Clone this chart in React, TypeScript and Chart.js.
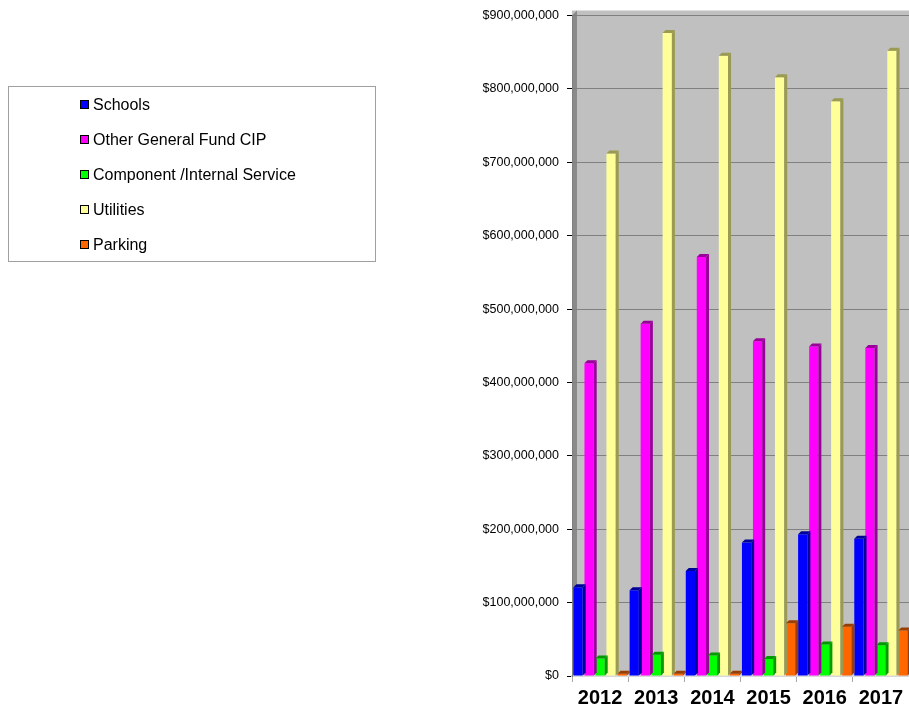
import React, { useEffect, useRef } from "react";
import { Chart, registerables } from "chart.js";
Chart.register(...registerables);

const YEARS = ["2012", "2013", "2014", "2015", "2016", "2017"];
const SERIES_NAMES = ["Schools", "Other General Fund CIP", "Component /Internal Service", "Utilities", "Parking"];
const SCHOOLS = [121e6, 117e6, 143e6, 182e6, 193e6, 187e6];
const OTHER_GF = [426e6, 480e6, 571e6, 456e6, 449e6, 447e6];
const COMPONENT = [24e6, 29e6, 28e6, 23e6, 43e6, 42e6];
const UTILITIES = [712e6, 876e6, 845e6, 816e6, 783e6, 852e6];
const PARKING = [3e6, 3e6, 3e6, 72e6, 67e6, 62e6];
const SERIES_VALUES = [SCHOOLS, OTHER_GF, COMPONENT, UTILITIES, PARKING];
const COLORS = ["#0000FF", "#FF00FF", "#00FF00", "#FFFF99", "#FF6600"];
const SIDE_COLORS = ["#00009a", "#9a009a", "#009a00", "#9a9a50", "#9a3d00"];
const Y_MAX = 900e6;
const Y_STEP = 100e6;

const FONT = "Arial, 'Liberation Sans', sans-serif";

const bgPlugin = {
  id: "bg3d",
  beforeDraw(chart: any) {
    const { ctx, chartArea } = chart;
    if (!chartArea) return;
    const { left, right, top, bottom } = chartArea;
    ctx.save();
    ctx.fillStyle = "#C0C0C0";
    ctx.fillRect(left, top - 5, right - left, bottom - top + 5);
    ctx.fillStyle = "#8a8a8a";
    ctx.beginPath();
    ctx.moveTo(left, top);
    ctx.lineTo(left + 5, top - 5);
    ctx.lineTo(left + 5, bottom - 4);
    ctx.lineTo(left, bottom);
    ctx.closePath();
    ctx.fill();
    ctx.restore();
  },
  afterDatasetsDraw(chart: any) {
    const { ctx } = chart;
    const d = 3;
    ctx.save();
    chart.data.datasets.forEach((ds: any, i: number) => {
      const meta = chart.getDatasetMeta(i);
      meta.data.forEach((el: any) => {
        const { x, y, base, width } = el.getProps(["x", "y", "base", "width"], true);
        const l = x - width / 2;
        const r = x + width / 2;
        ctx.fillStyle = SIDE_COLORS[i];
        ctx.beginPath();
        ctx.moveTo(r, y);
        ctx.lineTo(r + d, y - d);
        ctx.lineTo(r + d, base - d);
        ctx.lineTo(r, base);
        ctx.closePath();
        ctx.fill();
        ctx.beginPath();
        ctx.moveTo(l, y);
        ctx.lineTo(l + d, y - d);
        ctx.lineTo(r + d, y - d);
        ctx.lineTo(r, y);
        ctx.closePath();
        ctx.fill();
      });
    });
    ctx.restore();
  },
};

export default function App() {
  const ref = useRef<HTMLCanvasElement>(null);
  useEffect(() => {
    if (!ref.current) return;
    const chart = new Chart(ref.current, {
      type: "bar",
      data: {
        labels: YEARS,
        datasets: SERIES_NAMES.map((name, i) => ({
          label: name,
          data: SERIES_VALUES[i],
          backgroundColor: COLORS[i],
          borderWidth: 0,
          categoryPercentage: 0.98,
          barPercentage: 0.84,
        })),
      },
      options: {
        responsive: false,
        animation: false,
        layout: { padding: { left: 482, top: 15, right: 0, bottom: 0 } },
        plugins: { legend: { display: false }, tooltip: { enabled: false } },
        scales: {
          x: {
            grid: { drawOnChartArea: false, tickLength: 6, color: "#aaaaaa" },
            border: { color: "#d8d8d8", width: 2 },
            ticks: { color: "#000", padding: 4, font: { family: FONT, size: 20, weight: "bold" } },
            afterFit: (s: any) => { s.height = 33; },
          },
          y: {
            min: 0,
            max: Y_MAX,
            grid: { color: "#808080", tickLength: 5, tickColor: "#000" },
            border: { color: "#808080" },
            ticks: {
              stepSize: Y_STEP,
              padding: 8,
              color: "#000",
              font: { family: FONT, size: 12.5 },
              callback: (v: any) => "$" + Number(v).toLocaleString("en-US"),
            },
            afterFit: (s: any) => { s.width = 90; },
          },
        },
      },
      plugins: [bgPlugin],
    });
    return () => chart.destroy();
  }, []);

  return (
    <div style={{ position: "fixed", left: 0, top: 0, width: 909, height: 709, background: "#fff" }}>
      <canvas ref={ref} width={909} height={709} style={{ position: "absolute", left: 0, top: 0 }} />
      <div
        style={{
          position: "absolute",
          left: 8,
          top: 86,
          width: 366,
          height: 174,
          border: "1px solid #a0a0a0",
          fontFamily: FONT,
          fontSize: 16,
          color: "#000",
        }}
      >
        {SERIES_NAMES.map((name, i) => (
          <div
            key={name}
            style={{ position: "absolute", left: 71, top: 8 + i * 35, height: 19, display: "flex", alignItems: "center", whiteSpace: "nowrap" }}
          >
            <span style={{ display: "inline-block", width: 7, height: 7, border: "1px solid #000", background: COLORS[i], marginRight: 4 }} />
            <span>{name}</span>
          </div>
        ))}
      </div>
    </div>
  );
}
